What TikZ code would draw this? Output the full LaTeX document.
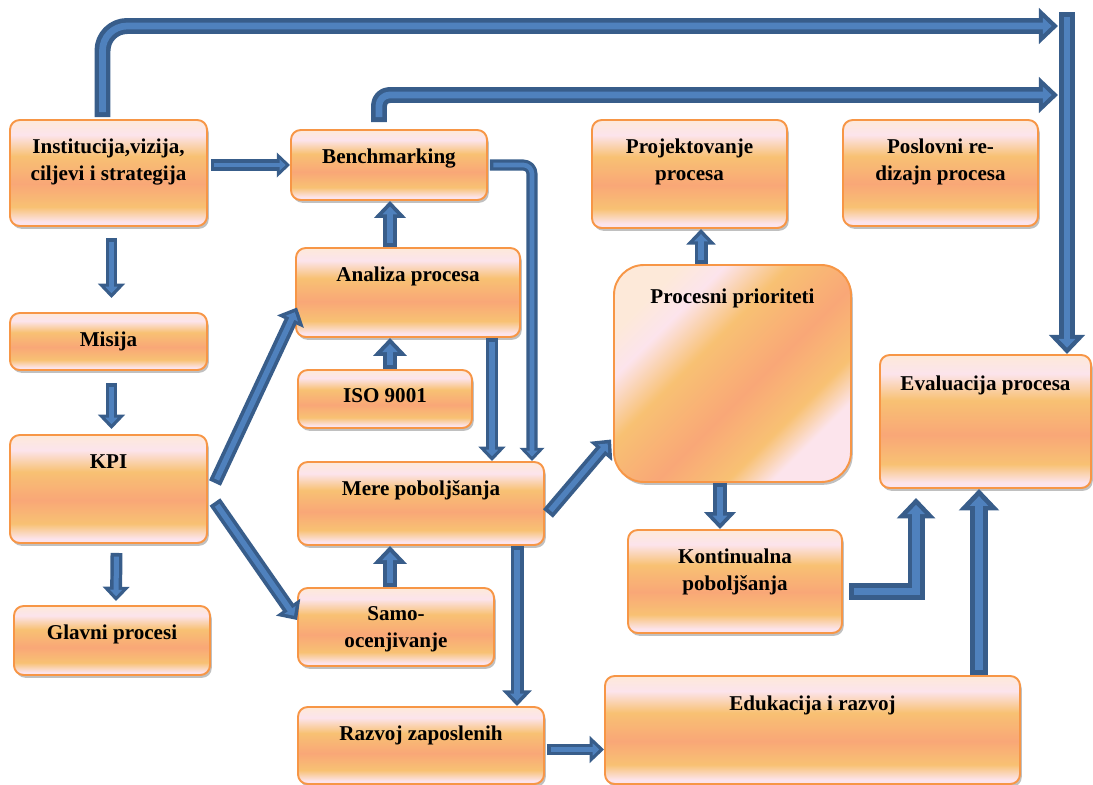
\documentclass[tikz,border=0pt]{standalone}
\usepackage{fontspec}
\setmainfont{Liberation Serif}
\usetikzlibrary{
    arrows.meta,    % Triangle tips for the block arrows
    calc,           % shifted anchors
    shadows         % grey drop shadow under the boxes
}
\definecolor{boxedge}{HTML}{F79646}
\definecolor{boxpeach}{HTML}{FDE9D9}
\definecolor{boxpink}{HTML}{FCE4EC}
\definecolor{boxgold}{HTML}{F8C173}
\definecolor{boxsalmon}{HTML}{F9A777}
\definecolor{arrowdark}{HTML}{385D8A}
\definecolor{arrowblue}{HTML}{4F81BD}
\pgfdeclareverticalshading{boxfill}{100bp}{
    color(0bp)=(boxpink); color(25bp)=(boxpink); color(27bp)=(boxpink);
    color(34bp)=(boxgold); color(45bp)=(boxsalmon); color(58bp)=(boxgold);
    color(68bp)=(boxpink); color(75bp)=(boxpeach); color(100bp)=(boxpeach)}
\newlength{\pxunit}
\setlength{\pxunit}{0.02cm}
% box text: [baseline below top]{width}{height}{text}, sizes in pixels
\newcommand{\boxtext}[4][33]{\parbox[c][#3\pxunit][t]{#2\pxunit}{\centering\rule{0pt}{#1\pxunit}#4}}
\tikzset{
    procbox/.style={
        draw=boxedge, line width=1.1pt, rounded corners=5.5pt,
        shading=boxfill, inner sep=0pt,
        font=\bfseries\fontsize{12}{15.5}\selectfont,
        drop shadow={shadow xshift=1pt, shadow yshift=-1.6pt, fill=black!45, opacity=0.55}
    },
    flow/.style={
        draw=arrowdark, line width=#1, line join=round,
        -{Triangle[width=0pt 2.2, length=0pt 1.2]},
        postaction={draw=arrowblue, line width=0.42*#1,
            shorten >=0.4*#1, shorten <=0.3*#1,
            -{Triangle[width=0pt 2.4, length=0pt 1.3]}}
    },
    flow/.default=7.4pt
}

\begin{document}
\begin{tikzpicture}[x=0.02cm, y=-0.02cm]
        \useasboundingbox (0,0) rectangle (1093,785);

        % left column
        \node[procbox] (inst) at (108.5,173) {\boxtext{197}{106}{Institucija,vizija,\\ciljevi i strategija}};
        \node[procbox] (misija) at (108.5,341.5) {\boxtext{197}{57}{Misija}};
        \node[procbox] (kpi) at (108.5,489) {\boxtext{197}{108}{KPI}};
        \node[procbox] (glavni) at (112,640.5) {\boxtext{196}{69}{Glavni procesi}};

        % middle column
        \node[procbox] (bench) at (389,165) {\boxtext{196}{70}{Benchmarking}};
        \node[procbox] (anal) at (408,292.5) {\boxtext{224}{89}{Analiza procesa}};
        \node[procbox] (iso) at (385,399) {\boxtext[32]{174}{58}{ISO 9001}};
        \node[procbox] (mere) at (421,503.5) {\boxtext{246}{83}{Mere poboljšanja}};
        \node[procbox] (samo) at (396,627) {\boxtext[32]{196}{78}{Samo-\\ocenjivanje}};
        \node[procbox] (razvoj) at (421,745.5) {\boxtext{246}{77}{Razvoj zaposlenih}};

        % right part
        \node[procbox] (proj) at (689.5,174) {\boxtext{195}{108}{Projektovanje\\procesa}};
        \node[procbox] (posl) at (940.5,173) {\boxtext{195}{106}{Poslovni re-\\dizajn procesa}};
        \node[procbox, rounded corners=17pt, shading angle=45] (proc) at (732.5,373.5) {\boxtext[38]{237}{217}{Procesni prioriteti}};
        \node[procbox] (kont) at (735,581.5) {\boxtext{214}{103}{Kontinualna\\poboljšanja}};
        \node[procbox] (eval) at (985.5,421.5) {\boxtext[35]{211}{133}{Evaluacija procesa}};
        \node[procbox] (eduk) at (812.5,730) {\boxtext[34]{415}{108}{Edukacija i razvoj}};

        % free ends of the feedback lines
        \coordinate (bartop) at (1067,12);
        \coordinate (in1) at (1058,26);
        \coordinate (in2) at (1058,95);

        % feedback lines along the top
        \draw[flow=9.1pt, rounded corners=14pt] ($(inst.north)+(-6,-2)$) |- (in1);
        \draw[flow=9.1pt, rounded corners=6pt] ($(bench.north)+(-10,-7)$) |- (in2);
        \draw[flow=9.1pt] (bartop) -- (bartop |- eval.north);

        % arrows of the left column
        \draw[flow=6.3pt] ($(inst.east)+(3,-8)$) -- (bench.west);
        \draw[flow=6.8pt] ($(inst.south)+(3,11)$) -- ($(misija.north)+(3,-14)$);
        \draw[flow=6.8pt] ($(misija.south)+(3,12)$) -- ($(kpi.north)+(3,-5)$);
        \draw[flow=6.8pt] ($(kpi.south)+(8,9)$) -- ($(glavni.north)+(4,-4)$);
        \draw[flow] ($(kpi.east)+(7,-6)$) -- ($(anal.west)+(2,15)$);
        \draw[flow] ($(kpi.east)+(7,13)$) -- ($(samo.west)+(0,-7)$);

        % arrows of the middle column
        \draw[flow=8pt] (390,0 |- anal.north) -- (390,0 |- bench.south);
        \draw[flow=8.5pt] (390,0 |- iso.north) -- (390,0 |- anal.south);
        \draw[flow=8.5pt] (390,0 |- samo.north) -- (390,0 |- mere.south);
        \draw[flow=6.8pt] (492,0 |- anal.south) -- (492,0 |- mere.north);
        \draw[flow=6.3pt, rounded corners=5pt] ($(bench.east)+(2,0)$) -| (532,0 |- mere.north);
        \draw[flow] (517,0 |- mere.south) -- (517,0 |- razvoj.north);
        \draw[flow=6.8pt] ($(razvoj.east)+(2,4)$) -- ($(eduk.west)+(0,19.5)$);

        % arrows of the right part
        \draw[flow] ($(mere.east)+(3,10)$) -- ($(proc.west)+(-2,66)$);
        \draw[flow] (701,0 |- proc.north) -- (701,0 |- proj.south);
        \draw[flow=8pt] (720,0 |- proc.south) -- (720,0 |- kont.north);
        \draw[flow=9.7pt, line join=miter] ($(kont.east)+(6,10)$) -| ($(eval.south west)+(37,9)$);
        \draw[flow=10.2pt] (979,0 |- eduk.north) -- (979,0 |- eval.south);
\end{tikzpicture}
\end{document}
